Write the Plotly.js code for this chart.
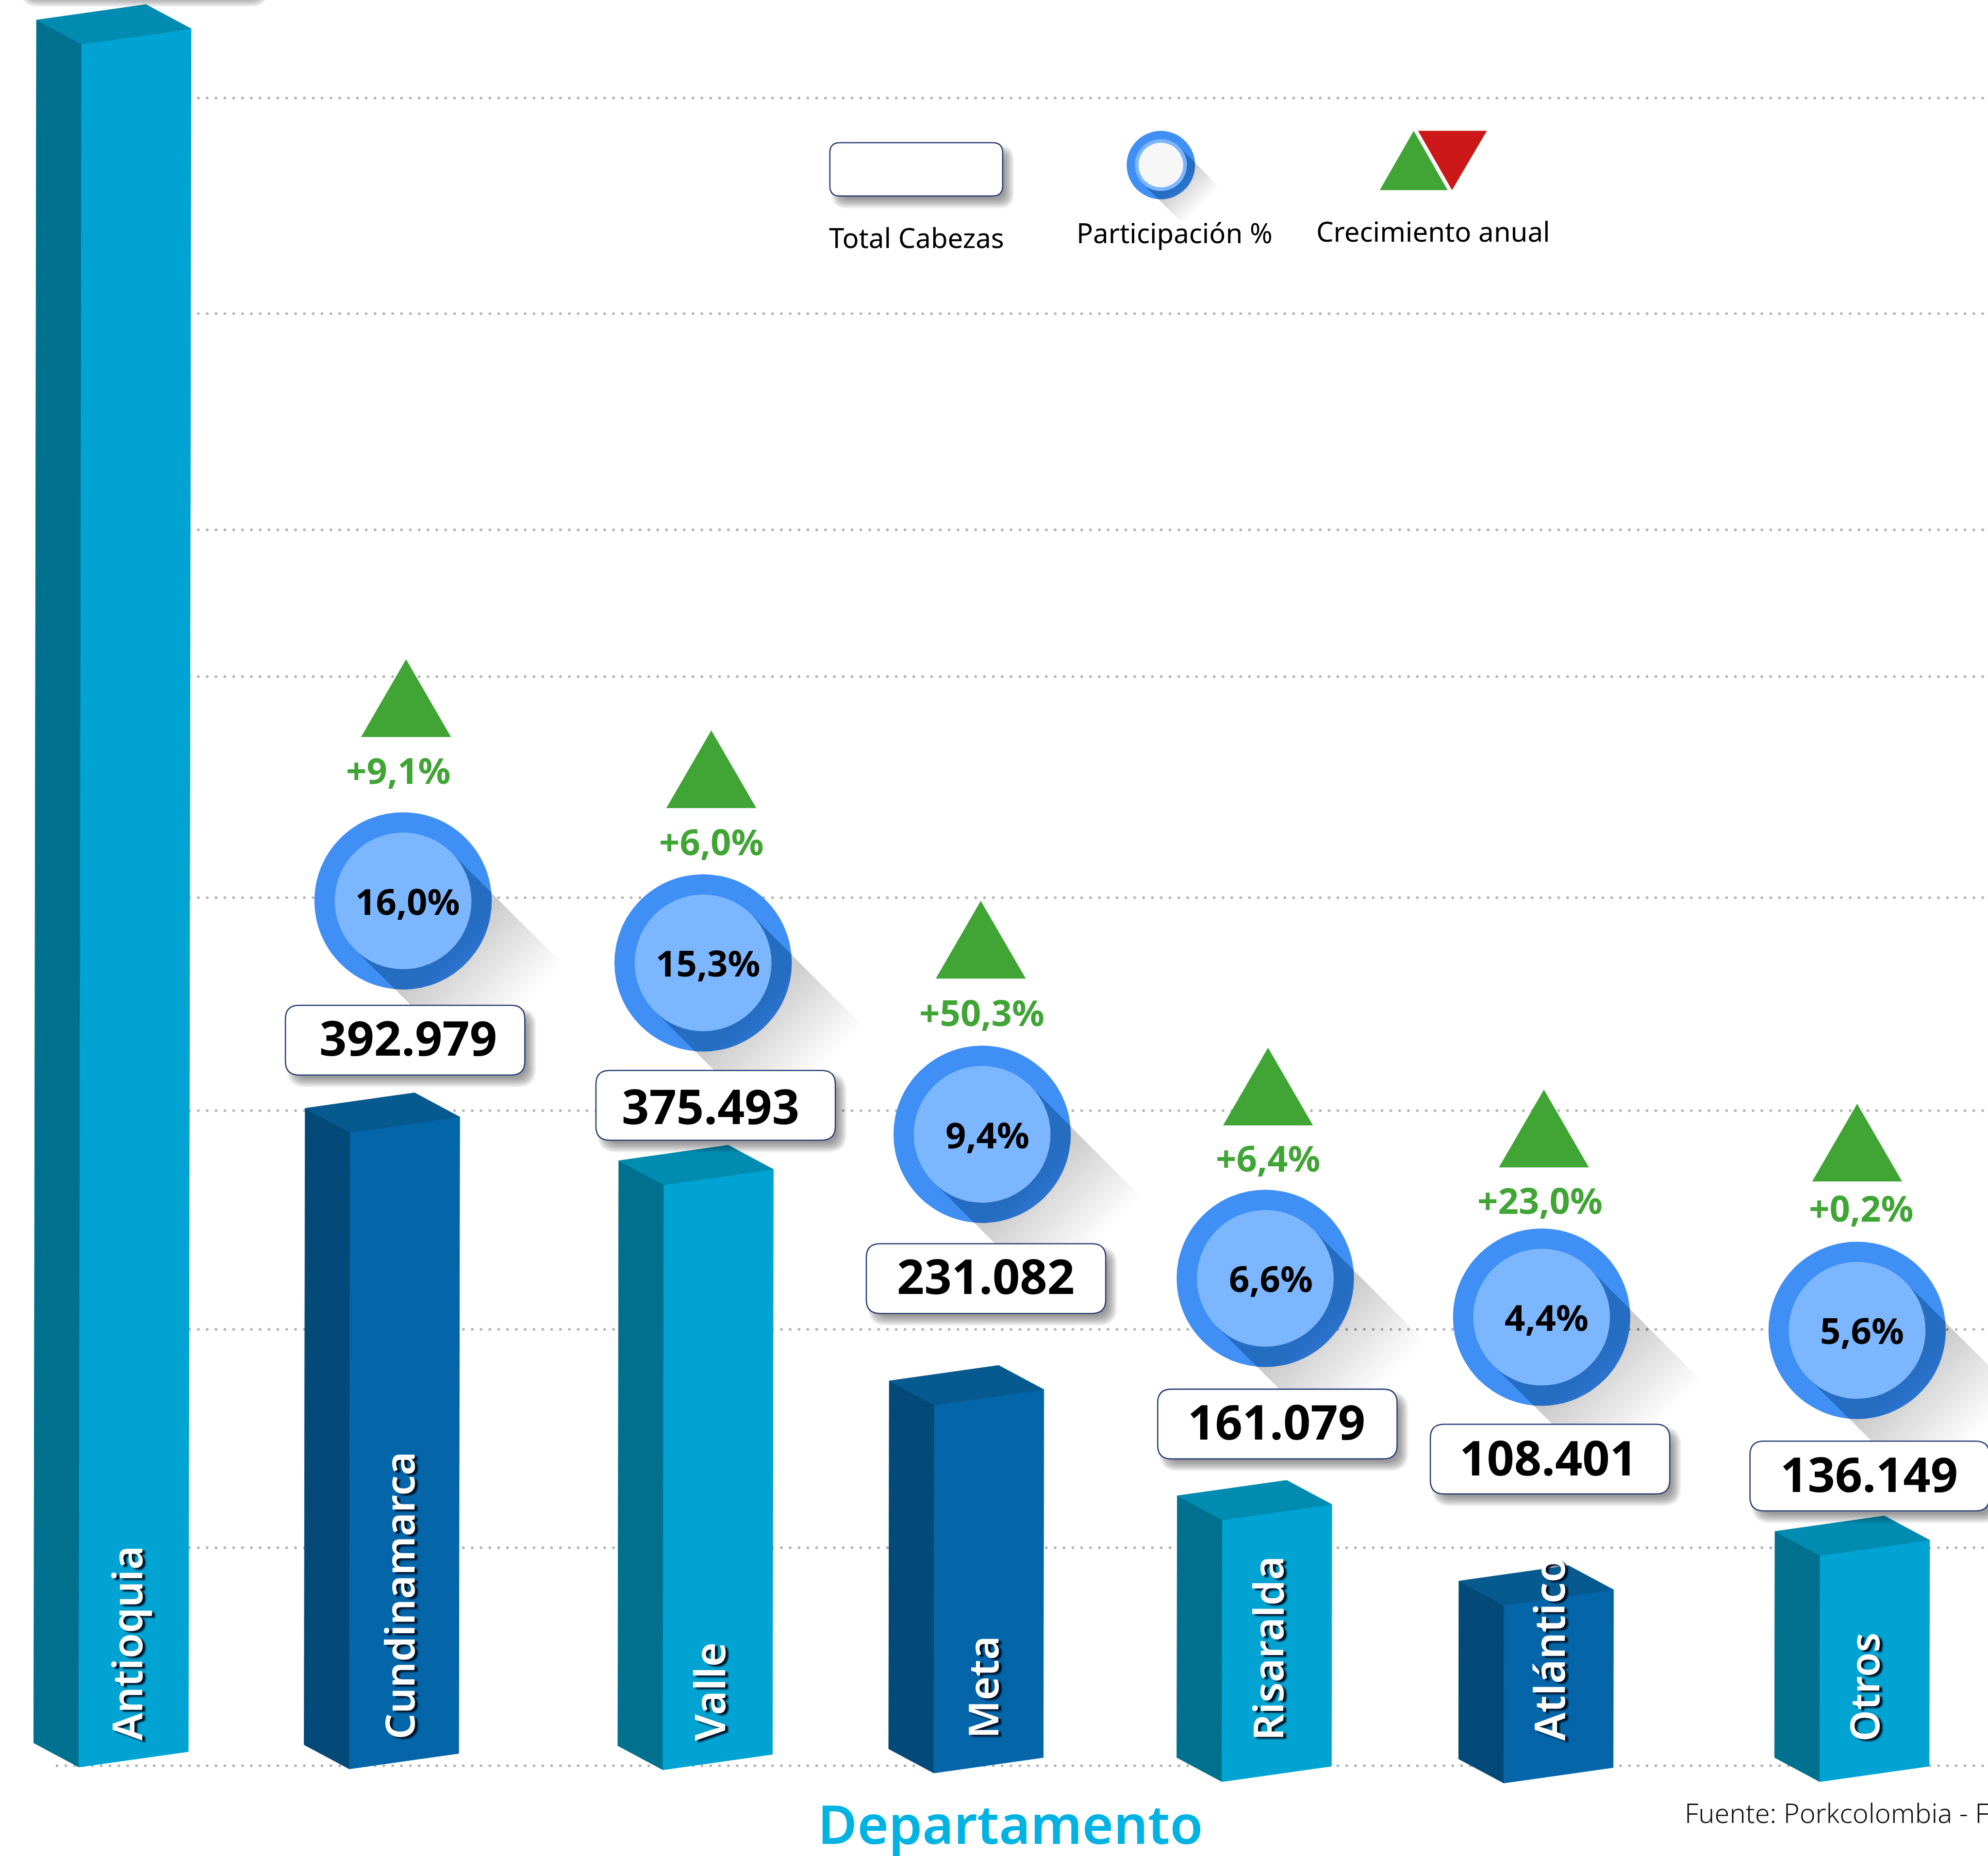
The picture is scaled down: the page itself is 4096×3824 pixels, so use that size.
<!DOCTYPE html>
<html>
<head>
<meta charset="utf-8">
<script src="https://cdn.plot.ly/plotly-3.0.1.min.js"></script>
<style>
html,body{margin:0;padding:0;background:#fff;overflow:hidden}
.shapelayer path{stroke-linecap:round}
</style>
</head>
<body>
<div id="chart" style="width:4096px;height:3824px"></div>
<script>
// ---------- data ----------
const categories = ["Antioquia","Cundinamarca","Valle","Meta","Risaralda","Atlántico","Otros"];
const barValues  = [1063800, 392979, 361200, 227200, 161600, 109800, 139600];
const totalLabels = ["392.979","375.493","231.082","161.079","108.401","136.149"];
const shareLabels = ["16,0%","15,3%","9,4%","6,6%","4,4%","5,6%"];
const growthLabels = ["+9,1%","+6,0%","+50,3%","+6,4%","+23,0%","+0,2%"];
const gridValues = [0,134600,269400,404500,536000,672500,763100,896600,1029700];

// ---------- layout (reference pixels) ----------
const S = 4096/4360, W = 4360, H = 4071, K = 281.5, BASE = 3873;
const Y = p => (BASE-p)*K;
const footX = [173,766,1454,2048,2680,3298,3991];
const footY = [3876,3880,3882,3889,3908,3911,3908];
const labelX = [277,875,1555,2155,2779,3396,4087];
const labelY = [3820,3818,3820,3816,3820,3820,3822];
const labelSize = [90,89,92,90,90,92,88];
const tones = [0,1,0,1,0,1,0];
const frontCol = ["#00a3d1","#0465a8"], sideCol = ["#00708f","#044a78"], topCol = ["#008bb0","#065a90"];
const boxX = [626,1307,1900,2539,3137,3838], boxY = [2205,2348,2728,3047,3124,3161];
const numX = [895,1558,2162,2800,3396,4099], numY = [2275,2425,2798,3117,3196,3232];
const bubX = [884,1542,2154,2775,3381,4073], bubY = [1976,2112,2488,2804,2889,2918];
const shareX = [894,1553,2166,2787,3392,4084], shareY = [1976,2112,2488,2804,2889,2917];
const triX = [890.5,1560,2151,2781,3386,4073], triY = [1446,1602,1976,2298,2390,2421];
const growX = [873,1560,2153,2781,3377,4082], growY = [1689,1845,2220,2540,2632,2649];

const GREEN="#40a535", RING="#3f8ff5", CORE="#7cb6ff", NAVY="#2b3f73", FONT='"Noto Sans", sans-serif';
const traces=[], shapes=[], annotations=[];

// ---------- bars ----------
function face(xs,ys,color){
  traces.push({type:"scatter",mode:"lines",x:xs,y:ys.map(Y),fill:"toself",fillcolor:color,
    line:{color:color,width:1},hoverinfo:"skip",showlegend:false});
}
categories.forEach((c,i)=>{
  const h = barValues[i]/K, fx=footX[i], fy=footY[i], t=tones[i];
  const sk = h*0.0016;                    // faint lean of the artwork
  const F=[fx,fy], R=[fx+240,fy-34], L=[fx-99,fy-53];
  const top = p=>[p[0]+sk,p[1]-h];
  const TF=top(F),TR=top(R),TL=top(L),TB=[TR[0]-99,TR[1]-53];
  face([L,F,TF,TL,L].map(p=>p[0]),[L,F,TF,TL,L].map(p=>p[1]),sideCol[t]);
  face([F,R,TR,TF,F].map(p=>p[0]),[F,R,TR,TF,F].map(p=>p[1]),frontCol[t]);
  face([TL,TF,TR,TB,TL].map(p=>p[0]),[TL,TF,TR,TB,TL].map(p=>p[1]),topCol[t]);
  annotations.push({x:labelX[i],y:Y(labelY[i]),text:c,textangle:-90,xanchor:"center",yanchor:"bottom",showarrow:false,
    font:{family:FONT,size:labelSize[i]*S,color:"#fff",weight:600,shadow:"-4px 6px 3px rgba(0,15,35,.95)"}});
});

// ---------- helpers ----------
gridValues.forEach(v=>shapes.push({type:"line",layer:"below",xref:"x",yref:"y",x0:125,x1:W,y0:v,y1:v,
  line:{color:"#b2b2b2",width:5.6,dash:"0.1px,18.1px"}}));

function rr(x,y,w,h,r){
  const P=(a,b)=>a+","+Y(b);
  return "M"+P(x+r,y)+"L"+P(x+w-r,y)+"Q"+P(x+w,y)+" "+P(x+w,y+r)+"L"+P(x+w,y+h-r)+"Q"+P(x+w,y+h)+" "+P(x+w-r,y+h)+
         "L"+P(x+r,y+h)+"Q"+P(x,y+h)+" "+P(x,y+h-r)+"L"+P(x,y+r)+"Q"+P(x,y)+" "+P(x+r,y)+"Z";
}
function path(d,fill,line){shapes.push({type:"path",xref:"x",yref:"y",path:d,fillcolor:fill,line:line||{width:0}});}
function poly(pts,fill){path("M"+pts.map(p=>p[0]+","+Y(p[1])).join("L")+"Z",fill);}
function circle(cx,cy,r,fill){shapes.push({type:"circle",xref:"x",yref:"y",x0:cx-r,x1:cx+r,y0:Y(cy-r),y1:Y(cy+r),fillcolor:fill,line:{width:0}});}

function boxShadow(x,y,w,h,r){
  for(let e=11;e>=-9;e-=2.5) path(rr(x+14-e,y+16-e,w+2*e,h+2*e,r+Math.max(e,0)),"rgba(0,0,0,0.052)");
}
function card(x,y,w,h,r){
  boxShadow(x,y,w,h,r);
  path(rr(x,y,w,h,r),"#ffffff",{color:NAVY,width:2.6});
}
function longShadow(cx,cy,r,full,end,total){
  const steps=26, a=total/steps, q=Math.SQRT1_2;
  for(let i=steps;i>=1;i--){
    const T=full+(end-full)*(i/steps);
    const n=[q*r,-q*r], d=[q*T,q*T];
    poly([[cx+n[0],cy+n[1]],[cx+n[0]+d[0],cy+n[1]+d[1]],[cx-n[0]+d[0],cy-n[1]+d[1]],[cx-n[0],cy-n[1]]],"rgba(0,0,0,"+a+")");
  }
}
function bubble(cx,cy,R,r){
  circle(cx,cy,R,RING);
  longShadow(cx,cy,r,140,345,0.19);
  circle(cx,cy,r,CORE);
}

// off-canvas label of the tallest bar: only its shadow shows at the top edge
boxShadow(40,-165,525,153,30);

// ---------- callouts ----------
totalLabels.forEach((t,i)=>{
  bubble(bubX[i],bubY[i],194.5,150);
});
totalLabels.forEach((t,i)=>{
  card(boxX[i],boxY[i],525,153,30);
  poly([[triX[i],triY[i]],[triX[i]+98.7,triY[i]+170.6],[triX[i]-98.7,triY[i]+170.6]],GREEN);
  annotations.push({x:numX[i],y:Y(numY[i]),text:t,showarrow:false,xanchor:"center",yanchor:"middle",
    font:{family:FONT,size:105*S,color:"#000",weight:700}});
  annotations.push({x:shareX[i],y:Y(shareY[i]),text:shareLabels[i],showarrow:false,xanchor:"center",yanchor:"middle",
    font:{family:FONT,size:79*S,color:"#000",weight:700}});
  annotations.push({x:growX[i],y:Y(growY[i]),text:growthLabels[i],showarrow:false,xanchor:"center",yanchor:"middle",
    font:{family:FONT,size:79*S,color:GREEN,weight:700}});
});

// ---------- legend ----------
card(1820,313,379,117,22);
circle(2546,362,75,RING);
longShadow(2546,362,57,50,125,0.19);
circle(2546,362,57,CORE);
circle(2546,362,49,"#f7f7f7");
poly([[3100.5,287],[3175,417],[3026,417]],GREEN);
poly([[3110,287],[3261,287],[3184.5,417]],"#cc1818");
[["Total Cabezas",2010,521],["Participación %",2576,510],["Crecimiento anual",3143,507]].forEach(a=>
  annotations.push({x:a[1],y:Y(a[2]),text:a[0],showarrow:false,xanchor:"center",yanchor:"middle",
    font:{family:FONT,size:60*S,color:"#000"}}));

// ---------- footer ----------
annotations.push({x:2216,y:Y(3999),text:"Departamento",showarrow:false,xanchor:"center",yanchor:"middle",
  font:{family:FONT,size:118*S,color:"#00b3e3",weight:600}});
annotations.push({x:3693,y:Y(3975),text:"Fuente: Porkcolombia - F",showarrow:false,xanchor:"left",yanchor:"middle",
  font:{family:FONT,size:59.5*S,color:"#111",weight:300}});

Plotly.newPlot("chart",traces,{
  width:4096,height:3824,margin:{l:0,r:0,t:0,b:0,pad:0},autosize:false,
  paper_bgcolor:"#fff",plot_bgcolor:"#fff",showlegend:false,hovermode:false,
  xaxis:{range:[0,W],visible:false,fixedrange:true},
  yaxis:{range:[Y(H),Y(0)],visible:false,fixedrange:true},
  shapes:shapes,annotations:annotations
},{displayModeBar:false,staticPlot:true});
</script>
</body>
</html>
